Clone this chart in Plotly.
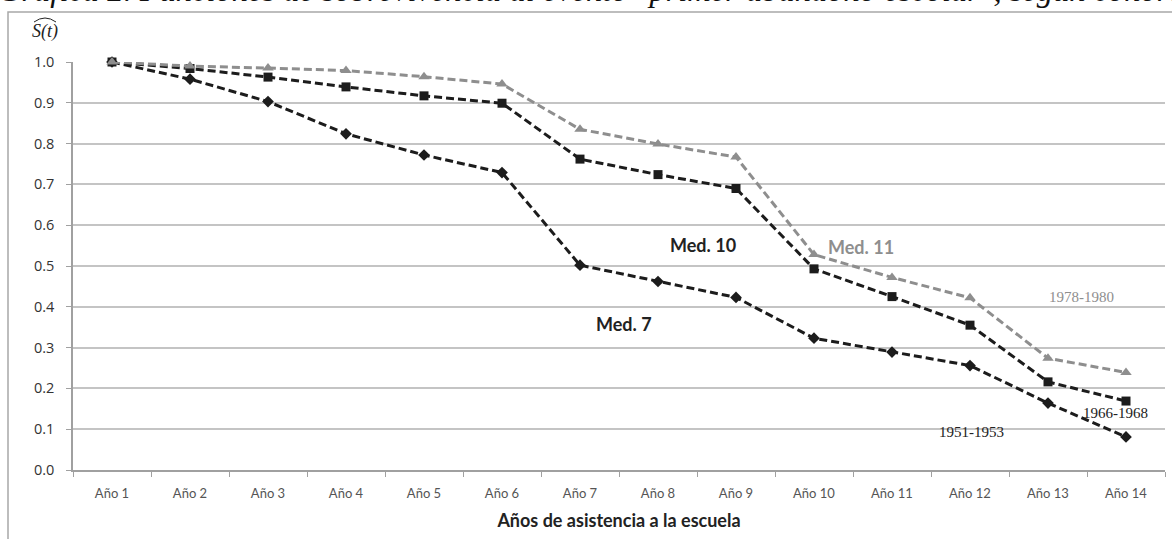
import plotly.graph_objects as go

# Categories and survival values per cohort
anios = ["Año 1", "Año 2", "Año 3", "Año 4", "Año 5", "Año 6", "Año 7",
         "Año 8", "Año 9", "Año 10", "Año 11", "Año 12", "Año 13", "Año 14"]
cohorte_1951_1953 = [1.000, 0.958, 0.903, 0.824, 0.772, 0.729, 0.502,
                     0.462, 0.423, 0.323, 0.289, 0.256, 0.164, 0.081]
cohorte_1966_1968 = [1.000, 0.984, 0.963, 0.939, 0.917, 0.899, 0.762,
                     0.724, 0.690, 0.493, 0.425, 0.355, 0.216, 0.169]
cohorte_1978_1980 = [1.000, 0.990, 0.985, 0.979, 0.964, 0.946, 0.835,
                     0.799, 0.767, 0.528, 0.472, 0.422, 0.274, 0.239]
y_ticks = [0.0, 0.1, 0.2, 0.3, 0.4, 0.5, 0.6, 0.7, 0.8, 0.9, 1.0]

W, H = 1172, 539
L, R, T, B = 73, 7, 62, 69
PW, PH = W - L - R, H - T - B


def px(x):
    return (x - L) / PW


def py(y):
    return (H - B - y) / PH


BLACK = "#1c1c1c"
GRAY = "#8e8e8e"

fig = go.Figure()
series = [
    ("1951-1953", cohorte_1951_1953, BLACK, "diamond", 9),
    ("1966-1968", cohorte_1966_1968, BLACK, "square", 9),
    ("1978-1980", cohorte_1978_1980, GRAY, "triangle-up", 10),
]
for name, vals, col, sym, sz in series:
    fig.add_trace(go.Scatter(
        x=anios, y=vals, name=name, mode="lines+markers",
        line=dict(color=col, width=3, dash="8px,4px"),
        marker=dict(symbol=sym, size=sz, color=col),
        cliponaxis=False, showlegend=False,
    ))

annotations = [
    # Title, partly above the top edge of the page
    dict(text="<i>Gráfica 2. Funciones de sobrevivencia al evento \"primer abandono escolar\", según cohorte</i>",
         x=px(-4), y=py(10), xanchor="left", yanchor="bottom",
         font=dict(family="Liberation Serif", size=32.5, color="#111")),
    dict(text="<i>S(t)</i>", x=px(45), y=py(31), xanchor="center", yanchor="middle",
         font=dict(family="Liberation Serif", size=18, color="#222")),
    dict(text="<b>Med. 10</b>", x=px(703), y=py(245), xanchor="center", yanchor="middle",
         font=dict(family="Lato", size=18, color="#222")),
    dict(text="<b>Med. 11</b>", x=px(861), y=py(247), xanchor="center", yanchor="middle",
         font=dict(family="Lato", size=18, color=GRAY)),
    dict(text="<b>Med. 7</b>", x=px(624), y=py(324), xanchor="center", yanchor="middle",
         font=dict(family="Lato", size=18, color="#222")),
    dict(text="1978-1980", x=px(1081), y=py(297), xanchor="center", yanchor="middle",
         font=dict(family="Liberation Serif", size=15, color=GRAY)),
    dict(text="1966-1968", x=px(1115), y=py(413), xanchor="center", yanchor="middle",
         font=dict(family="Liberation Serif", size=15, color="#222")),
    dict(text="1951-1953", x=px(971), y=py(432), xanchor="center", yanchor="middle",
         font=dict(family="Liberation Serif", size=15, color="#222")),
]
for a in annotations:
    a.update(xref="paper", yref="paper", showarrow=False)

shapes = [
    # outer chart frame
    dict(type="rect", xref="paper", yref="paper",
         x0=px(8), y0=py(600), x1=px(1200), y1=py(12),
         line=dict(color="#a8a8a8", width=1.5), layer="below"),
    # hat over S(t)
    dict(type="path", xref="paper", yref="paper",
         path=f"M {px(34)} {py(22)} Q {px(45)} {py(14)} {px(56)} {py(22)}",
         line=dict(color="#222", width=1)),
]

fig.update_layout(
    width=W, height=H,
    margin=dict(l=L, r=R, t=T, b=B, autoexpand=False),
    paper_bgcolor="white", plot_bgcolor="white",
    annotations=annotations, shapes=shapes,
    xaxis=dict(
        type="category", categoryorder="array", categoryarray=anios,
        range=[-0.5, len(anios) - 0.5],
        tickson="boundaries", ticks="outside", ticklen=5, tickcolor="#a0a0a0",
        ticklabelstandoff=11,
        showline=True, linecolor="#a0a0a0", linewidth=1.5,
        showgrid=False,
        tickfont=dict(family="Lato", size=13, color="#555"),
        title=dict(text="<b>Años de asistencia a la escuela</b>",
                   font=dict(family="Lato", size=18, color="#222"), standoff=14),
    ),
    yaxis=dict(
        range=[0, 1.0], tickvals=y_ticks, ticktext=[f"{v:.1f}" for v in y_ticks],
        ticks="outside", ticklen=5, tickcolor="#a0a0a0",
        ticklabelstandoff=9,
        showline=True, linecolor="#a0a0a0", linewidth=1.5,
        showgrid=True, gridcolor="#c4c4c4", gridwidth=1.5,
        zeroline=False,
        tickfont=dict(family="Open Sans", size=14.5, color="#333"),
    ),
)

fig.write_html("out.html")
